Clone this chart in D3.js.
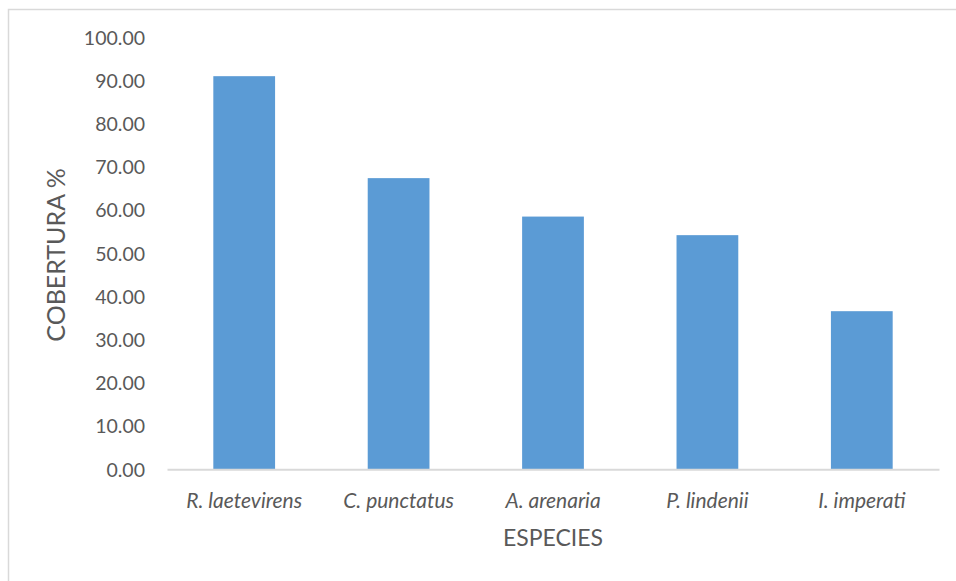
<!DOCTYPE html>
<html><head><meta charset="utf-8">
<script src="https://cdn.jsdelivr.net/npm/d3@7"></script>
<style>html,body{margin:0;padding:0;background:#fff;overflow:hidden}</style>
</head><body>
<svg id="c" width="956" height="581"></svg>
<script>
const categories = ["R. laetevirens","C. punctatus","A. arenaria","P. lindenii","I. imperati"];
const values = [91.0, 67.4, 58.5, 54.2, 36.6];
const yTicks = [0,10,20,30,40,50,60,70,80,90,100];
const yTitle = "COBERTURA %";
const xTitle = "ESPECIES";

(function(){
const svg = d3.select("#c");
const font = "'Gill Sans','Gill Sans MT',Lato,'Open Sans',sans-serif";
const textCol = "#595959";
const pL = 167, pR = 939, pT = 37.3, pB = 469.3;

svg.append("rect").attr("x",8.5).attr("y",9.5).attr("width",1000).attr("height",1000)
  .attr("fill","none").attr("stroke","#d9d9d9").attr("stroke-width",1.5);

const x = d3.scaleBand().domain(categories).range([pL,pR]).paddingInner(0.6).paddingOuter(0.3);
const y = d3.scaleLinear().domain([0,100]).range([pB,pT]);

svg.append("g").selectAll("rect").data(values).join("rect")
  .attr("x",(d,i)=>x(categories[i])).attr("width",x.bandwidth())
  .attr("y",d=>y(d)).attr("height",d=>y(0)-y(d)).attr("fill","#5B9BD5");

const yAxis = svg.append("g").attr("transform",`translate(${pL-22},0)`)
  .call(d3.axisLeft(y).tickValues(yTicks).tickFormat(d3.format(".2f")).tickSize(0).tickPadding(0));
yAxis.select(".domain").remove();
yAxis.selectAll("text").attr("fill",textCol).style("font-family",font).style("font-size","19.5px").attr("dy","0.35em");

const xAxis = svg.append("g").attr("transform",`translate(0,${pB})`)
  .call(d3.axisBottom(x).tickSize(0).tickPadding(0));
xAxis.select(".domain").attr("stroke","#d9d9d9").attr("stroke-width",2);
xAxis.selectAll("text").attr("fill",textCol).style("font-family",font).style("font-size","21px")
  .style("font-style","italic").attr("y",39).attr("dy",0);

svg.append("text").attr("x",553).attr("y",546).attr("text-anchor","middle")
  .attr("fill",textCol).style("font-family",font).style("font-size","23px").text(xTitle);
svg.append("text").attr("transform","translate(65,255) rotate(-90)").attr("text-anchor","middle")
  .attr("fill",textCol).style("font-family",font).style("font-size","25px").text(yTitle);
})();
</script>
</body></html>
